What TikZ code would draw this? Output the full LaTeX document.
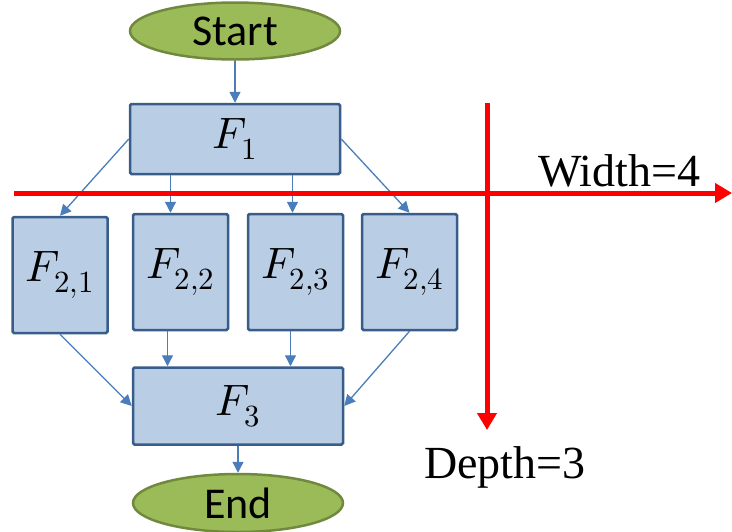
\documentclass[tikz,border=0pt]{standalone}
\usepackage{fontspec}
\usepackage{unicode-math}
\setmainfont{Liberation Serif}
\setmathfont{Latin Modern Math}
\newfontfamily\termfont{Carlito}
\usetikzlibrary{arrows.meta,positioning,shapes.geometric}
\definecolor{boxblue}{HTML}{385D8A}
\definecolor{boxice}{HTML}{B9CDE5}
\definecolor{flowblue}{HTML}{4A7EBB}
\definecolor{termgreen}{HTML}{9BBB59}
\definecolor{termolive}{HTML}{71893F}
\definecolor{axisred}{HTML}{FF0000}
\tikzset{
  funcbox/.style={
    rectangle,
    rounded corners=1.5pt,
    draw=boxblue,
    fill=boxice,
    line width=2.5pt,
    minimum width=95pt,
    minimum height=116pt,
    inner sep=0pt,
    font=\fontsize{44}{48}\selectfont
  },
  widebox/.style={
    minimum width=210pt
  },
  termbox/.style={
    ellipse,
    draw=termolive,
    fill=termgreen,
    line width=2.5pt,
    minimum width=210pt,
    minimum height=57pt,
    inner sep=0pt,
    font=\termfont\fontsize{44}{48}\selectfont
  },
  flowarrow/.style={
    -{Triangle[length=11pt,width=11pt]},
    line width=1.3pt,
    draw=flowblue
  },
  axisarrow/.style={
    -{Triangle[length=17pt,width=19pt]},
    line width=5pt,
    draw=axisred
  },
  axislabel/.style={
    font=\fontsize{46}{50}\selectfont,
    inner sep=0pt
  }
}

\begin{document}
\begin{tikzpicture}[x=1pt, y=1pt]
\useasboundingbox (0,0) rectangle (732,-531);
\node[termbox] (start) at (235,-31) {Start};
\node[funcbox, widebox, minimum height=70pt, below=42pt of start] (f1) {$F_1$};
\node[funcbox] (f21) at (60,-275) {$F_{2,1}$};
\node[funcbox, right=23pt of f21, yshift=3pt] (f22) {$F_{2,2}$};
\node[funcbox, right=17.5pt of f22] (f23) {$F_{2,3}$};
\node[funcbox, right=16.5pt of f23] (f24) {$F_{2,4}$};
\node[funcbox, widebox, minimum height=77pt] (f3) at (238,-406) {$F_3$};
\node[termbox, minimum height=58pt, below=27pt of f3] (end) {End};
\draw[flowarrow] (start) -- (f1);
\draw[flowarrow] (f1.west) -- (f21.north);
\draw[flowarrow] ([xshift=-10pt]f22.north |- f1.south) -- ([xshift=-10pt]f22.north);
\draw[flowarrow] ([xshift=-3pt]f23.north |- f1.south) -- ([xshift=-3pt]f23.north);
\draw[flowarrow] (f1.east) -- (f24.north);
\draw[flowarrow] (f21.south) -- (f3.west);
\draw[flowarrow] ([xshift=-13pt]f22.south) -- ([xshift=-13pt]f22.south |- f3.north);
\draw[flowarrow] ([xshift=-5pt]f23.south) -- ([xshift=-5pt]f23.south |- f3.north);
\draw[flowarrow] (f24.south) -- (f3.east);
\draw[flowarrow] (f3) -- (end);
% width and depth axes
\coordinate (wfrom) at (14,-193);
\coordinate (wto) at (732,-193);
\coordinate (dfrom) at (487,-103);
\coordinate (dto) at (487,-430);
\draw[axisarrow] (wfrom) -- (wto);
\draw[axisarrow] (dfrom) -- (dto);
\node[axislabel, anchor=base west] (wlabel) at (538,-186) {Width=4};
\node[axislabel, anchor=base west] (dlabel) at (424,-478) {Depth=3};
\end{tikzpicture}
\end{document}
